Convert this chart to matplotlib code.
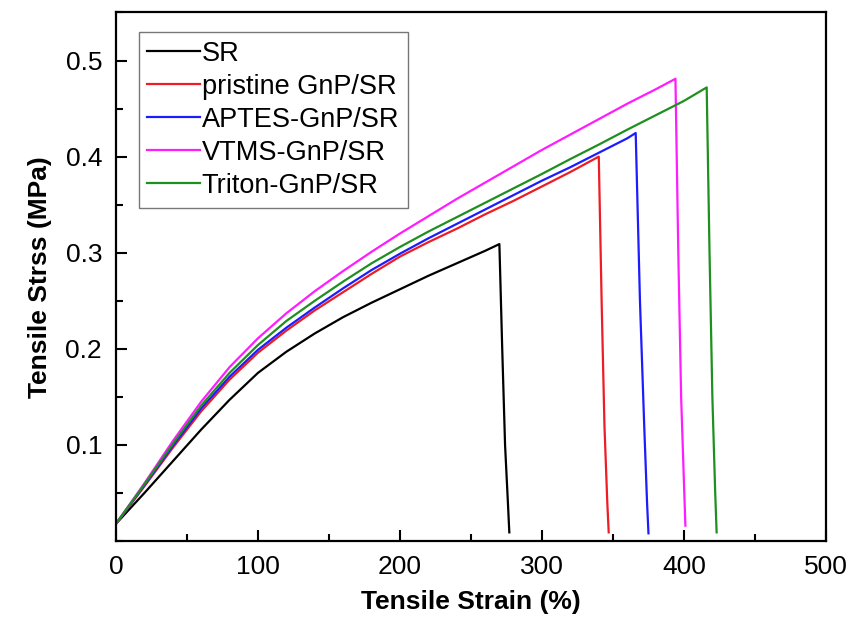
import matplotlib
matplotlib.use("Agg")
from matplotlib import pyplot as plt
from matplotlib.ticker import MultipleLocator

plt.rcParams['font.family'] = ['Liberation Sans', 'DejaVu Sans']

# strain (%) / stress (MPa)
sr_strain = [0, 20, 40, 60, 80, 100, 120, 140, 160, 180, 200, 220, 240, 260, 270, 272, 274, 276, 277]
sr_stress = [0.018, 0.050, 0.083, 0.116, 0.147, 0.175, 0.197, 0.216, 0.233, 0.248, 0.262, 0.276,
             0.289, 0.302, 0.309, 0.20, 0.10, 0.04, 0.009]

pristine_strain = [0, 20, 40, 60, 80, 100, 120, 140, 160, 180, 200, 220, 240, 260, 280, 300,
                   320, 340, 342, 344, 346, 347]
pristine_stress = [0.018, 0.057, 0.097, 0.135, 0.168, 0.196, 0.219, 0.240, 0.259, 0.278, 0.296,
                   0.311, 0.325, 0.340, 0.354, 0.369, 0.384, 0.400, 0.25, 0.12, 0.04, 0.009]

aptes_strain = [0, 20, 40, 60, 80, 100, 120, 140, 160, 180, 200, 220, 240, 260, 280, 300,
                320, 340, 360, 366, 369, 372, 374, 375]
aptes_stress = [0.018, 0.058, 0.099, 0.138, 0.171, 0.199, 0.222, 0.243, 0.263, 0.282, 0.299,
                0.315, 0.330, 0.345, 0.360, 0.375, 0.389, 0.404, 0.419, 0.4246, 0.25, 0.12,
                0.04, 0.008]

vtms_strain = [0, 20, 40, 60, 80, 100, 120, 140, 160, 180, 200, 220, 240, 260, 280, 300,
               320, 340, 360, 380, 394, 396, 398, 400, 401]
vtms_stress = [0.018, 0.060, 0.104, 0.145, 0.181, 0.211, 0.237, 0.260, 0.281, 0.301, 0.320,
               0.338, 0.356, 0.373, 0.390, 0.407, 0.423, 0.439, 0.455, 0.470, 0.481, 0.30,
               0.15, 0.06, 0.016]

triton_strain = [0, 20, 40, 60, 80, 100, 120, 140, 160, 180, 200, 220, 240, 260, 280, 300,
                 320, 340, 360, 380, 400, 416, 418, 420, 422, 423]
triton_stress = [0.018, 0.059, 0.101, 0.141, 0.175, 0.204, 0.229, 0.250, 0.270, 0.289, 0.306,
                 0.322, 0.337, 0.352, 0.367, 0.382, 0.3975, 0.4125, 0.428, 0.443, 0.458, 0.472,
                 0.30, 0.15, 0.05, 0.009]

labels = ['SR', 'pristine GnP/SR', 'APTES-GnP/SR', 'VTMS-GnP/SR', 'Triton-GnP/SR']
colors = ['black', '#ee1c24', '#1c1cff', '#ff1cff', '#1f8f1f']

fig = plt.figure(figsize=(8.53, 6.33), dpi=100)
ax = fig.add_axes([0.136, 0.1453, 0.8323, 0.835])

curves = [(sr_strain, sr_stress), (pristine_strain, pristine_stress),
          (aptes_strain, aptes_stress), (vtms_strain, vtms_stress),
          (triton_strain, triton_stress)]
for (x, y), lab, c in zip(curves, labels, colors):
    ax.plot(x, y, color=c, lw=1.6, label=lab)

ax.set_xlim(0, 500)
ax.set_ylim(0, 0.55)
ax.xaxis.set_major_locator(MultipleLocator(100))
ax.xaxis.set_minor_locator(MultipleLocator(50))
ax.set_yticks([0.1, 0.2, 0.3, 0.4, 0.5])
ax.yaxis.set_minor_locator(MultipleLocator(0.05))

for s in ax.spines.values():
    s.set_linewidth(1.6)
ax.tick_params(which='both', direction='in', width=1.5, labelsize=19, pad=10)
ax.tick_params(which='major', length=8)
ax.tick_params(which='minor', length=5)

ax.set_xlabel('Tensile Strain (%)', fontsize=19, fontweight='bold', labelpad=8)
ax.set_ylabel('Tensile Strss (MPa)', fontsize=19, fontweight='bold', labelpad=10)

leg = ax.legend(loc='upper left', bbox_to_anchor=(0.032, 0.963), borderaxespad=0,
                fontsize=19.5, handlelength=1.95, handletextpad=0.05, labelspacing=0.26,
                borderpad=0.32, fancybox=False, frameon=True)
leg.get_frame().set_edgecolor('#555555')
leg.get_frame().set_linewidth(1.0)

plt.savefig('out.png', dpi=100)
